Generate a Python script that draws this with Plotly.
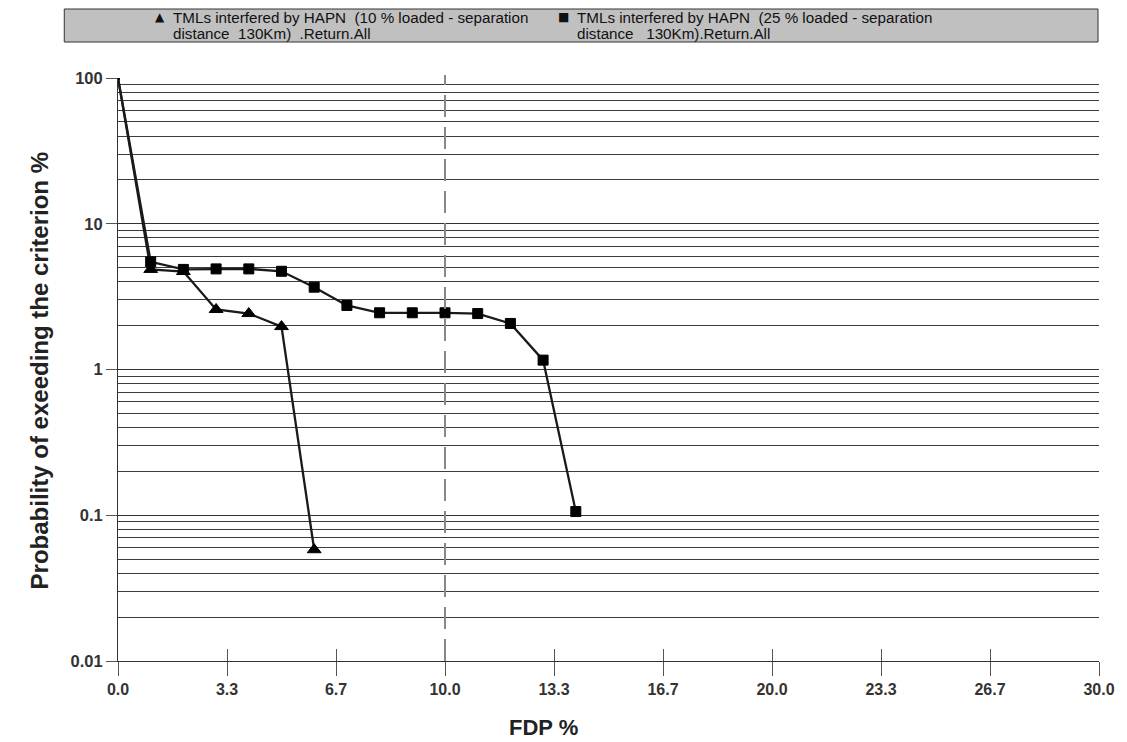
import plotly.graph_objects as go

# ---- data ----
fdp_10 = [0, 1, 2, 3, 4, 5, 6]
prob_10 = [100, 4.86, 4.7, 2.58, 2.42, 1.97, 0.058]

fdp_25 = [0, 1, 2, 3, 4, 5, 6, 7, 8, 9, 10, 11, 12, 13, 14]
prob_25 = [100, 5.48, 4.86, 4.9, 4.9, 4.72, 3.67, 2.75, 2.45, 2.45, 2.45, 2.42, 2.07, 1.16, 0.106]

legend_10 = ["TMLs interfered by HAPN\u00a0\u00a0(10 % loaded - separation",
             "distance\u00a0\u00a0130Km)\u00a0\u00a0.Return.All"]
legend_25 = ["TMLs interfered by HAPN\u00a0\u00a0(25 % loaded - separation",
             "distance\u00a0\u00a0\u00a0130Km).Return.All"]

x_tick_vals = [0, 10 / 3, 20 / 3, 10, 40 / 3, 50 / 3, 20, 70 / 3, 80 / 3, 30]
x_tick_text = ["0.0", "3.3", "6.7", "10.0", "13.3", "16.7", "20.0", "23.3", "26.7", "30.0"]
y_tick_vals = [0.01, 0.1, 1, 10, 100]
y_tick_text = ["0.01", "0.1", "1", "10", "100"]
y_minor_vals = [m * d for d in (0.01, 0.1, 1, 10) for m in range(2, 10)]
ref_x = 10

x_title = "FDP %"
y_title = "Probability of exeeding the criterion %"

FONT = "Liberation Sans, Arial, sans-serif"
INK = "#1a1a1a"
MARK = "#000000"

# plot-area geometry (pixels)
W, H = 1127, 742
L, R, T, B = 118, 1104, 78, 661
PW, PH = R - L, B - T


def px(x):
    return (x - L) / PW


def py(y):
    return (B - y) / PH


fig = go.Figure()


def sizes(n, big):
    return [3] + [big] * (n - 1)


fig.add_trace(go.Scatter(
    x=fdp_10, y=prob_10, mode="lines+markers", showlegend=False,
    line=dict(color=INK, width=2.3),
    marker=dict(symbol="triangle-up", size=sizes(len(fdp_10), 12), color=MARK, opacity=1,
                line=dict(color=MARK, width=1)),
))
fig.add_trace(go.Scatter(
    x=fdp_25, y=prob_25, mode="lines+markers", showlegend=False,
    line=dict(color=INK, width=2.3),
    marker=dict(symbol="square", size=sizes(len(fdp_25), 10), color=MARK, opacity=1,
                line=dict(color=MARK, width=1)),
))
# overlay axis for inside half of crossing x ticks
fig.add_trace(go.Scatter(x=[None], y=[None], xaxis="x2", showlegend=False, hoverinfo="skip"))

annotations = [
    dict(text=y_title, xref="paper", yref="paper", x=px(39), y=py(371),
         textangle=-90, showarrow=False, xanchor="center", yanchor="middle",
         font=dict(size=24, family=FONT, weight="bold", color="#222")),
    dict(text=x_title, xref="paper", yref="paper", x=px(546), y=py(727),
         showarrow=False, xanchor="center", yanchor="middle",
         font=dict(size=22, family=FONT, weight="bold", color="#222")),
]

legend_font = dict(size=15.2, family=FONT, color="#111")
for (sym, lines, mx) in (("\u25B2", legend_10, 160), ("\u25A0", legend_25, 566)):
    annotations.append(dict(text=sym, xref="paper", yref="paper", x=px(mx), y=py(17.5),
                            showarrow=False, xanchor="center", yanchor="middle",
                            font=dict(size=12, family="DejaVu Sans", color="#111")))
    for i, line in enumerate(lines):
        annotations.append(dict(text=line, xref="paper", yref="paper", x=px(mx + 11),
                                y=py(17.5 + 16 * i), showarrow=False,
                                xanchor="left", yanchor="middle", font=legend_font))

fig.update_layout(
    width=W, height=H,
    margin=dict(l=L, r=W - R, t=T, b=H - B),
    paper_bgcolor="white", plot_bgcolor="white",
    showlegend=False,
    font=dict(family=FONT, color=INK),
    xaxis=dict(
        range=[0, 30], tickmode="array", tickvals=x_tick_vals, ticktext=x_tick_text,
        showgrid=False, zeroline=False, showline=True, linecolor="#333", linewidth=1,
        ticks="outside", ticklen=14, tickcolor="#555", tickwidth=1,
        tickfont=dict(size=16, family=FONT, weight="bold", color="#333"),
    ),
    xaxis2=dict(
        range=[0, 30], overlaying="x", side="bottom", matches="x",
        tickmode="array", tickvals=x_tick_vals[1:], showticklabels=False,
        ticks="inside", ticklen=12, tickcolor="#555", tickwidth=1,
        showgrid=False, zeroline=False, showline=False,
    ),
    yaxis=dict(
        type="log", range=[-2, 2], tickmode="array", tickvals=y_tick_vals, ticktext=y_tick_text,
        showgrid=True, gridcolor="#333", gridwidth=1,
        zeroline=False, showline=True, linecolor="#333", linewidth=1,
        ticks="outside", ticklen=11, tickcolor="#555", tickwidth=1,
        tickfont=dict(size=16.5, family=FONT, weight="bold", color="#333"),
        minor=dict(tickmode="array", tickvals=y_minor_vals, showgrid=True,
                   gridcolor="#3c3c3c", gridwidth=1, ticks=""),
    ),
    shapes=[
        dict(type="rect", xref="paper", yref="paper",
             x0=px(64), x1=px(1103), y0=py(42), y1=py(9),
             fillcolor="#c0c0c0", line=dict(color="#333", width=1), layer="below"),
        dict(type="line", xref="x", yref="paper", x0=ref_x, x1=ref_x, y0=0, y1=py(75),
             line=dict(color="#888", width=2, dash="22px,10px"), layer="above"),
    ],
    annotations=annotations,
)

fig.write_html("out.html")
